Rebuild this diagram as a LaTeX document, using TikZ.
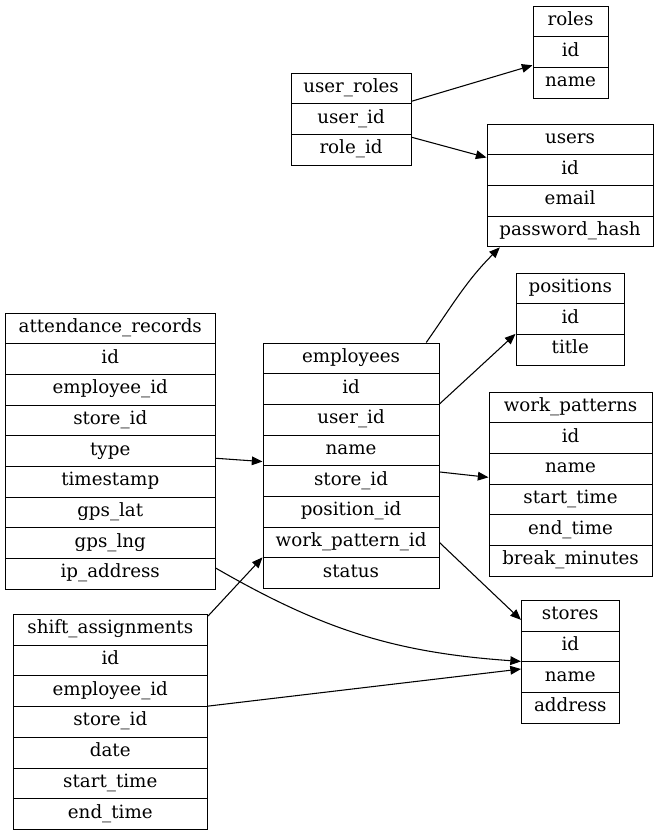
\documentclass[tikz,border=0pt]{standalone}
\usepackage{fontspec}
\setmainfont{DejaVu Serif}
\usetikzlibrary{arrows.meta}

\tikzset{
  field/.style={draw, line width=0.8pt, anchor=north west, inner sep=0pt,
    minimum height=30.7*0.75pt, text height=9.5pt, text depth=3.5pt,
    font=\fontsize{13.7}{16}\selectfont},
  fk/.style={-{Triangle[length=8pt,width=6.5pt]}, line width=0.8pt}
}

% one table: name, left, top, width, fields (pixel units)
\newcommand{\dbtable}[5]{%
  \foreach \f [count=\i from 0] in {#5}
    \node[field, minimum width=#4*0.75pt] (#1-\i) at (#2, {#3+\i*30.7}) {\f};
}

\begin{document}
\begin{tikzpicture}[x=0.75pt, y=-0.75pt]
    \useasboundingbox (0,0) rectangle (659,835);

    \dbtable{roles}{532.5}{5.5}{75}{roles,id,name}
    \dbtable{ur}{290.5}{72.5}{120}{user\_roles,user\_id,role\_id}
    \dbtable{users}{486.5}{123.5}{166}{users,id,email,password\_hash}
    \dbtable{pos}{515.5}{272.5}{108.5}{positions,id,title}
    \dbtable{emp}{262.5}{342.5}{176}{employees,id,user\_id,name,store\_id,position\_id,work\_pattern\_id,status}
    \dbtable{wp}{488.5}{391.5}{163}{work\_patterns,id,name,start\_time,end\_time,break\_minutes}
    \dbtable{ar}{4.7}{312.5}{210}{attendance\_records,id,employee\_id,store\_id,type,timestamp,gps\_lat,gps\_lng,ip\_address}
    \dbtable{sa}{12.5}{614}{194.5}{shift\_assignments,id,employee\_id,store\_id,date,start\_time,end\_time}
    \dbtable{st}{521}{600}{97.5}{stores,id,name,address}

    \draw[fk] ([yshift=2.25pt]ur-0.south east) -- ([yshift=2pt]roles-1.south west);
    \draw[fk] ([yshift=-2.5pt]ur-2.north east) -- ([yshift=-2.5pt]users-1.north west);
    \draw[fk] ([xshift=-10pt]emp-0.north east) to[out=55,in=225] ([xshift=10pt]users-3.south west);
    \draw[fk] (emp-2.north east) -- (pos-2.north west);
    \draw[fk] ([yshift=-5pt]emp-4.north east) -- ([yshift=5.5pt]wp-2.south west);
    \draw[fk] (emp-6.east) -- ([yshift=-3pt]st-0.west);
    \draw[fk] ([yshift=6.6pt]ar-4.south east) -- ([yshift=3.6pt]emp-3.south west);
    \draw[fk] ([yshift=-7.5pt]ar-8.north east) to[out=-30,in=176] (st-2.north west);
    \draw[fk] ([yshift=-1.5pt]sa-0.north east) -- (emp-7.north west);
    \draw[fk] (sa-3.north east) -- ([yshift=-5.7pt]st-2.north west);
\end{tikzpicture}
\end{document}
